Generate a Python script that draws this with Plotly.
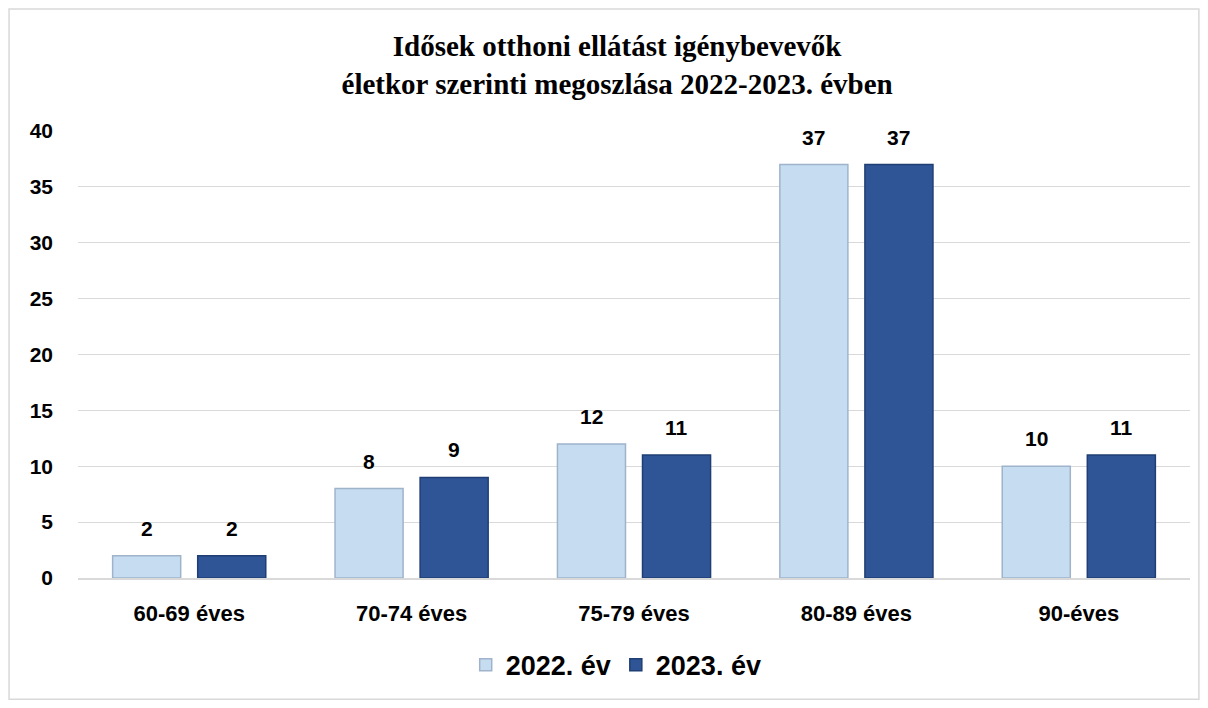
import plotly.graph_objects as go

categories = ["60-69 éves", "70-74 éves", "75-79 éves", "80-89 éves", "90-éves"]
values_2022 = [2, 8, 12, 37, 10]
values_2023 = [2, 9, 11, 37, 11]
series_names = ["2022. év", "2023. év"]
y_ticks = [0, 5, 10, 15, 20, 25, 30, 35, 40]

SANS = "Liberation Sans, Arial, sans-serif"
LABEL_FONT = dict(family=SANS, size=21, color="#000000", weight="bold")

fig = go.Figure()

fig.add_trace(go.Bar(
    x=categories, y=values_2022, name=series_names[0],
    marker=dict(color="#c6dcf1", line=dict(color="#9fb4cb", width=1.5)),
))
fig.add_trace(go.Bar(
    x=categories, y=values_2023, name=series_names[1],
    marker=dict(color="#2f5597", line=dict(color="#1f3e74", width=1.5)),
))

# value labels sit well above the bar tops, as in the original
annotations = []
for vals, shift in ((values_2022, -42.5), (values_2023, 42.5)):
    for cat, v in zip(categories, vals):
        annotations.append(dict(
            x=cat, y=v, xref="x", yref="y", text=str(v), showarrow=False,
            xanchor="center", yanchor="bottom", xshift=shift, yshift=14,
            font=LABEL_FONT,
        ))

fig.update_layout(
    width=1192, height=692,
    margin=dict(l=70, r=10, t=123, b=122),
    plot_bgcolor="#ffffff",
    paper_bgcolor="#ffffff",
    barmode="group",
    bargap=0.235,
    bargroupgap=0.2,
    title=dict(
        text="Idősek otthoni ellátást igénybevevők<br>életkor szerinti megoszlása 2022-2023. évben",
        x=0.511, xanchor="center", y=0.93, yanchor="top",
        font=dict(family="Liberation Serif, Times New Roman, serif", size=29, color="#000000", weight="bold"),
    ),
    legend=dict(
        orientation="h", x=0.484, xanchor="center", y=-0.195, yanchor="middle",
        font=dict(family=SANS, size=27, color="#000000", weight="bold"),
    ),
    annotations=annotations,
    shapes=[dict(
        type="rect", xref="paper", yref="paper",
        x0=-0.062, x1=1.008, y0=-0.271, y1=1.273,
        line=dict(color="#d9d9d9", width=1.5), layer="below",
    )],
)

fig.update_xaxes(
    showgrid=False, showline=True, linecolor="#d9d9d9", linewidth=1.5,
    ticks="", tickfont=dict(LABEL_FONT, size=22), ticklabelstandoff=15, automargin=False,
)
fig.update_yaxes(
    range=[0, 40], tickvals=y_ticks, showgrid=True, gridcolor="#d9d9d9", gridwidth=1.2,
    zeroline=False, showline=False, ticks="", tickfont=LABEL_FONT, ticklabelstandoff=24,
    automargin=False,
)

fig.write_html("out.html")
